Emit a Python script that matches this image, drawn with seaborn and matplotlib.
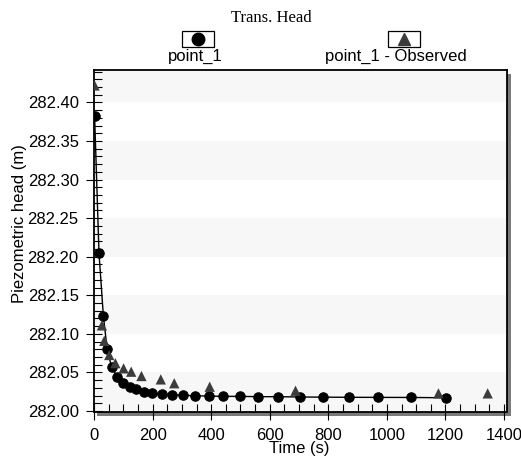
import numpy as np
import pandas as pd
import matplotlib
matplotlib.use('Agg')
import matplotlib.pyplot as plt
from matplotlib.patches import Rectangle
from matplotlib.lines import Line2D
from matplotlib.ticker import MultipleLocator, FormatStrFormatter
import seaborn as sns

# simulated heads (point_1)
pred_time = [2, 17, 32, 45, 60, 80, 100, 122, 144, 171, 199, 233, 267, 304,
             345, 392, 442, 499, 561, 628, 702, 782, 872, 971, 1081, 1201]
pred_head = [282.383, 282.205, 282.123, 282.080, 282.057, 282.044, 282.036,
             282.031, 282.028, 282.0246, 282.0233, 282.0216, 282.0211,
             282.0203, 282.0198, 282.0194, 282.019, 282.019, 282.0186,
             282.0186, 282.0182, 282.018, 282.0178, 282.0177, 282.0176,
             282.0172]

# observed heads (point_1 - Observed)
obs_time = [2, 27, 35, 52, 73, 101, 127, 162, 228, 274, 395, 688, 1176, 1344]
obs_head = [282.422, 282.111, 282.091, 282.0726, 282.062, 282.0553, 282.051,
            282.0454, 282.041, 282.036, 282.0315, 282.0263, 282.0229, 282.0229]

band_edges = [282.00, 282.10, 282.20, 282.30, 282.40]

sns.set_style('white')
plt.rcParams['font.family'] = ['Liberation Sans', 'DejaVu Sans']
plt.rcParams['text.color'] = 'black'

W, H = 521, 466
fig = plt.figure(figsize=(W / 100, H / 100), dpi=100)

# axes box in pixels
ax_l, ax_r, ax_t, ax_b = 94, 507, 70, 411.5
ax = fig.add_axes([ax_l / W, 1 - ax_b / H, (ax_r - ax_l) / W, (ax_b - ax_t) / H])
ax.set_zorder(2)

# drop shadow behind the plot box
fig.patches.append(Rectangle(((ax_l + 3) / W, 1 - (ax_b + 4) / H),
                             (ax_r - ax_l + 1) / W, (ax_b - ax_t) / H,
                             transform=fig.transFigure, facecolor='#7a7a7a',
                             edgecolor='none', zorder=0))

ax.set_xlim(0, 1410)
ax.set_ylim(281.9994, 282.442)

for lo in band_edges:
    ax.axhspan(lo, lo + 0.05, color='#f7f7f7', lw=0, zorder=0)

sns.lineplot(x=pred_time, y=pred_head, ax=ax, color='black', lw=1,
             marker='o', markersize=6.8, markeredgecolor='black',
             estimator=None, sort=False, zorder=3)
sns.scatterplot(x=obs_time, y=obs_head, ax=ax, marker='^', s=55,
                color='#3c3c3c', edgecolor='none', zorder=4)

for s in ax.spines.values():
    s.set_color('black')
    s.set_linewidth(1.3)

ax.xaxis.set_major_locator(MultipleLocator(200))
ax.xaxis.set_minor_locator(MultipleLocator(50))
ax.yaxis.set_major_locator(MultipleLocator(0.05))
ax.yaxis.set_minor_locator(MultipleLocator(0.01))
ax.yaxis.set_major_formatter(FormatStrFormatter('%.2f'))
ax.tick_params(axis='both', which='both', bottom=True, left=True,
               top=False, right=False)
ax.tick_params(axis='both', which='major', direction='inout', length=12,
               width=0.8, color='black', labelcolor='black', labelsize=12)
ax.tick_params(axis='both', which='minor', direction='in', length=6,
               width=0.8, color='black')
ax.tick_params(axis='y', which='major', pad=5)
ax.tick_params(axis='x', which='major', pad=6)

fig.text(299 / W, 1 - 453 / H, 'Time (s)', ha='center', va='baseline',
         fontsize=12)
fig.text(20 / W, 1 - 224 / H, 'Piezometric head (m)', rotation=90,
         ha='center', va='center', fontsize=12)
fig.text(271 / W, 1 - 22 / H, 'Trans. Head', ha='center', va='baseline',
         fontsize=12, family=['Liberation Serif'])

# legend: marker in a box above each label
for cx, lx, mk, col, label in [(198, 195, 'o', 'black', 'point_1'),
                               (404, 396, '^', '#3c3c3c', 'point_1 - Observed')]:
    fig.patches.append(Rectangle(((cx - 16) / W, 1 - 47 / H), 32 / W, 16 / H,
                                 transform=fig.transFigure, facecolor='white',
                                 edgecolor='black', lw=0.9))
    fig.lines.append(Line2D([cx / W], [1 - 39 / H], transform=fig.transFigure,
                            marker=mk, markersize=9, color=col, lw=0))
    fig.text(lx / W, 1 - 61 / H, label, ha='center', va='baseline', fontsize=12)

fig.savefig('out.png', dpi=100)
